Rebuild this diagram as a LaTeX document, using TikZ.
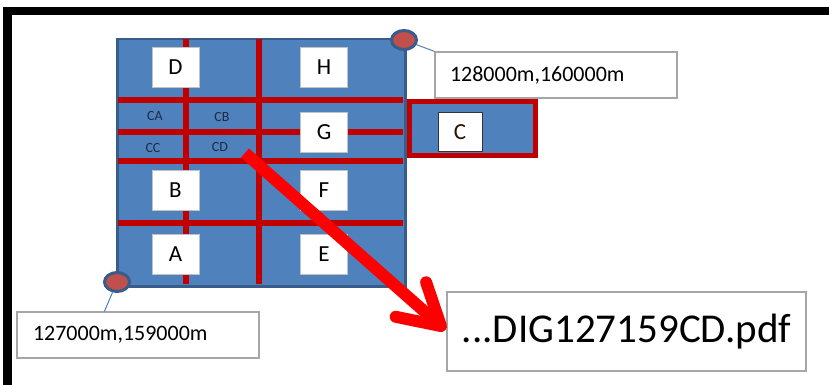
\documentclass[tikz,border=0pt]{standalone}
\usepackage{fontspec}
\setmainfont{Carlito}
\usetikzlibrary{arrows.meta,shapes.geometric}
\definecolor{sqblue}{HTML}{4F81BD}
\definecolor{sqedge}{HTML}{385D8A}
\definecolor{gridred}{HTML}{C00000}
\definecolor{dotred}{HTML}{C0504D}
\definecolor{boxgray}{HTML}{A6A6A6}
\definecolor{smalltext}{HTML}{1F2A44}
\tikzset{
  gridline/.style={draw=gridred, line width=5.5pt},
  lbox/.style={draw=boxgray!70, line width=0.6pt, fill=white, minimum width=47pt, minimum height=40pt, inner sep=0pt, font=\fontsize{23}{23}\selectfont},
  small/.style={text=smalltext, inner sep=0pt, font=\fontsize{14}{14}\selectfont},
  dot/.style={ellipse, draw=sqedge, line width=3pt, fill=dotred, minimum width=25pt, minimum height=19pt, inner sep=0pt},
  callout/.style={draw=sqblue, line width=1pt},
  cbox/.style={draw=boxgray, line width=1.2pt, fill=white, inner sep=0pt},
  bigarrow/.style={draw=red, line width=12pt, -{Straight Barb[length=40pt, width=46pt, round]}}
}
\begin{document}
\begin{tikzpicture}[x=1pt,y=-1pt]
\useasboundingbox (0,0) rectangle (829,385);
% frame
\fill[black] (3,7) rectangle (829,15);
\fill[black] (3,7) rectangle (12,385);
% square
\node[draw=sqedge, fill=sqblue, line width=2.5pt, minimum width=288pt, minimum height=247pt, inner sep=0pt, anchor=north west] (sq) at (116,38) {};
% grid
\draw[gridline] (186,39.5) -- (186,283.5);
\draw[gridline] (259,39.5) -- (259,283.5);
\draw[gridline] (117.5,100) -- (402.5,100);
\draw[gridline] (117.5,132) -- (402.5,132);
\draw[gridline] (117.5,161) -- (402.5,161);
\draw[gridline] (117.5,223) -- (402.5,223);
% side block C
\node[draw=gridred, fill=sqblue, line width=5pt, minimum width=126pt, minimum height=54pt, inner sep=0pt] (cblk) at (472.5,128.5) {};
% letter boxes
\node[lbox] (D) at (175.5,67) {D};
\node[lbox] (H) at (324,67) {H};
\node[lbox] (G) at (324,132) {G};
\node[lbox] (B) at (175.5,190.5) {B};
\node[lbox] (F) at (324,190.5) {F};
\node[lbox] (A) at (175.5,254) {A};
\node[lbox] (E) at (324,254) {E};
\node[lbox, draw=black!80, line width=1pt, minimum width=44pt, minimum height=38pt, text=black!75!orange!60!black] (C) at (460,132) {C};
% small labels
\node[small] (CA) at (155,116) {CA};
\node[small] (CB) at (222,117) {CB};
\node[small] (CC) at (153,148) {CC};
\node[small] (CD) at (220,147) {CD};
% corner dots
\node[dot] (tr) at (404,40) {};
\node[dot] (bl) at (117,282) {};
% callout boxes
\node[cbox, minimum width=242pt, minimum height=46pt, text width=212pt, align=left, font=\fontsize{22}{22}\selectfont] (c1) at (556,75) {128000m,160000m};
\node[cbox, minimum width=242pt, minimum height=46pt, text width=210pt, align=left, font=\fontsize{22}{22}\selectfont] (c2) at (138,335) {127000m,159000m};
\node[cbox, minimum width=359pt, minimum height=79pt, font=\fontsize{41}{41}\selectfont] (dig) at (626.5,331.5) {...DIG127159CD.pdf};
\draw[callout] (tr) -- (c1.north west);
\draw[callout] (bl) -- ([xshift=88pt]c2.north west);
% big arrow
\coordinate (astart) at (245,153);
\draw[bigarrow] (astart) -- ([xshift=-1pt,yshift=1.5pt]dig.west);
\end{tikzpicture}
\end{document}
